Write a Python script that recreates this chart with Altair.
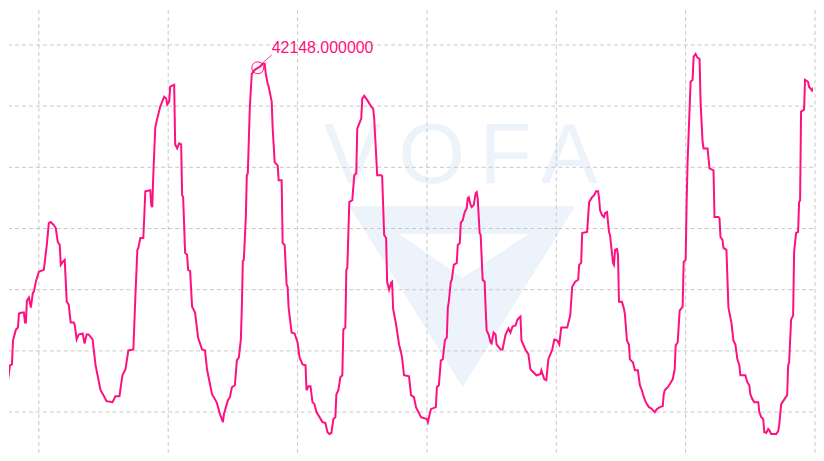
import altair as alt
import pandas as pd

# ---- data ----
sample = [0,4,5,7,9,11,12,15,17,18,
21,23,24,25,26,28,30,32,33,35,
38,43,46,48,50,53,55,57,59,60,
62,64,66,68,70,73,74,76,78,82,
84,86,88,92,95,97,100,103,106,112,
115,119,122,125,128,133,135,137,138,140,
143,144,145,150,151,152,153,155,157,158,
160,162,164,166,167,169,170,174,175,177,
179,181,182,183,185,187,188,190,192,195,
198,202,205,207,209,212,215,217,220,223,
224,226,228,230,232,235,237,239,241,242,
243,244,246,247,248,250,252,255,258,260,
263,265,266,268,269,272,273,275,278,279,
282,283,285,287,288,289,292,295,298,300,
303,306,307,309,311,313,315,317,320,323,
326,328,330,332,334,336,337,339,341,343,
344,346,347,348,350,353,355,357,358,362,
363,365,367,369,372,374,375,377,378,382,
383,385,387,388,390,392,393,394,397,400,
402,403,405,410,412,415,417,420,422,428,
429,432,437,438,440,442,444,446,448,449,
450,452,453,455,458,459,461,462,464,466,
468,469,470,472,473,475,477,478,479,481,
482,484,486,487,488,490,492,493,495,497,
498,502,504,507,510,512,514,517,519,522,
523,527,530,532,535,538,542,543,546,548,
550,552,554,556,559,561,563,569,571,572,
574,577,580,581,583,584,589,591,594,596,
598,600,601,602,604,606,607,609,611,612,
615,616,617,619,620,621,624,626,627,629,
631,632,635,637,640,642,644,646,648,651,
653,655,657,659,662,665,666,667,670,672,
675,677,678,680,682,685,686,688,689,690,
693,695,696,698,700,702,703,705,706,710,
712,716,717,721,722,723,725,726,729,731,
734,736,738,740,742,743,748,750,752,753,
755,757,761,762,764,766,767,769,771,772,
774,779,781,782,784,786,788,790,791,792,
794,796,797,799,801,802,803,804,807,808,
811,812,815,817,820,822,823,824]

value = [9648,9648,10748,10748,12248,12348,14748,15848,16048,17448,
17548,17548,16548,16548,18748,19048,18048,19548,19648,20648,
21648,21848,24348,26548,26648,26348,26048,24648,24348,22348,
22648,22848,18648,18348,16548,16548,16348,14848,15348,15448,
14448,15348,15348,14848,12248,11248,9748,9248,8648,8548,
9148,9148,11248,11848,13748,13848,19148,23848,24048,25048,
25048,27348,29748,29848,28348,28148,31348,36148,37048,37448,
38248,38748,39248,39048,38448,38748,40248,40448,34448,34048,
34548,34448,29348,29148,23548,23348,21848,21748,18148,17548,
15048,13848,13748,11848,10848,9348,8848,8448,7348,6548,
7348,8048,8748,9048,10048,10248,12748,13048,14848,18048,
22748,22848,27148,31348,31548,38148,41548,41948,42148,42248,
42548,42548,41548,40548,40248,38748,36048,32648,32348,30848,
30848,24548,24348,20348,20148,18048,15548,15448,14548,13048,
12348,12248,9748,10148,10148,8548,8348,7548,7048,6548,
6448,5548,5348,5448,6848,7048,9348,9748,11048,11248,
15848,16048,21848,22048,28648,28848,31348,31548,36048,37048,
39048,39348,39048,38748,38248,38048,37048,33348,31348,31348,
31248,25348,25048,20648,19848,20548,20648,17948,16348,14348,
13548,13048,11248,11148,9248,9048,8048,7448,7048,6848,
6548,7848,8048,10048,10248,12748,12848,14748,15048,18048,
18648,20648,20848,22348,22548,24348,24548,26548,26848,27648,
28048,29048,29148,28348,28148,28348,29548,29648,29048,25548,
25348,20848,20648,17948,15748,15348,14548,14448,15548,15348,
14348,13848,13848,15348,15948,15548,16148,16248,16848,17148,
14748,13848,13348,11848,11548,11248,11348,11748,10848,10748,
12848,13348,13848,14848,14748,14348,16048,16048,16848,17248,
20148,20648,20848,22348,22548,25548,25648,28648,29148,29348,
29748,29748,29048,27848,27348,27148,27548,27648,25648,25348,
22548,22348,23848,23948,23348,18648,18648,17948,17348,14748,
14348,12848,12548,11748,11748,10248,9748,9048,8548,8048,
7948,7748,7548,7848,8048,8148,9348,9748,10048,10348,
10848,11848,14248,14548,17748,18148,22648,22848,28648,32848,
40748,40948,43248,43548,43148,43048,38748,34748,34048,34048,
32048,31848,27148,27148,27048,25148,24848,24048,23848,18048,
16548,14748,14348,12848,12248,11248,11248,10548,10248,9348,
8848,8548,8548,7548,7048,6848,5548,5448,5848,5748,
5348,5348,5648,6248,8348,8648,8948,9248,12248,12548,
16848,17248,23648,25548,25648,28648,28848,37748,37948,40948,
40748,40248,39848,40248,40548,41448,41548,41048]

grid_x = [38, 168, 298, 428, 558, 688, 818]
grid_y = [7548, 13698, 19848, 25998, 32148, 38298, 44448]

marker_sample = [258]
marker_value = [42148]
marker_label = ["42148.000000"]

watermark_letters = ["V", "O", "F", "A"]

# ---- styles ----
PINK = "#ff1080"
GRID = "#c8c8c8"
WM = "#edf3fb"

x_scale = alt.Scale(domain=[8, 816], nice=False, zero=False)
y_scale = alt.Scale(domain=[3448, 47948], nice=False, zero=False)

df = pd.DataFrame({"sample": sample, "value": value})

# watermark
wm_df = pd.DataFrame({"sample": [353, 433, 507, 571], "value": [30548] * 4, "ch": watermark_letters})
wm_text = alt.Chart(wm_df).mark_text(
    font="Liberation Sans", fontSize=86, color=WM, align="center", baseline="alphabetic"
).encode(
    x=alt.X("sample:Q", scale=x_scale, axis=None),
    y=alt.Y("value:Q", scale=y_scale, axis=None),
    text="ch:N",
)
outer = pd.DataFrame({"sample": [350, 464, 577], "top": [28248] * 3, "bot": [28248, 10048, 28248]})
inner = pd.DataFrame({"sample": [400, 464, 530], "top": [25448] * 3, "bot": [25448, 21048, 25448]})
wm_outer = alt.Chart(outer).mark_area(color=WM, opacity=1).encode(
    x=alt.X("sample:Q", scale=x_scale, axis=None),
    y=alt.Y("top:Q", scale=y_scale, axis=None),
    y2="bot:Q",
)
wm_inner = alt.Chart(inner).mark_area(color="white", opacity=1).encode(
    x=alt.X("sample:Q", scale=x_scale, axis=None),
    y=alt.Y("top:Q", scale=y_scale, axis=None),
    y2="bot:Q",
)

# grid
vgrid = alt.Chart(pd.DataFrame({"gx": grid_x})).mark_rule(
    color=GRID, strokeDash=[4, 3], strokeWidth=1
).encode(x=alt.X("gx:Q", scale=x_scale, axis=None))
hgrid = alt.Chart(pd.DataFrame({"gy": grid_y})).mark_rule(
    color=GRID, strokeDash=[4, 3], strokeWidth=1
).encode(y=alt.Y("gy:Q", scale=y_scale, axis=None))

# signal line
line = alt.Chart(df).mark_line(color=PINK, strokeWidth=2, clip=True).encode(
    x=alt.X("sample:Q", scale=x_scale, axis=None),
    y=alt.Y("value:Q", scale=y_scale, axis=None),
)

# marker annotation
mk_df = pd.DataFrame({"sample": marker_sample, "value": marker_value, "label": marker_label})
marker = alt.Chart(mk_df).mark_point(
    shape="circle", size=144, filled=False, color=PINK, strokeWidth=1, opacity=1
).encode(
    x=alt.X("sample:Q", scale=x_scale, axis=None),
    y=alt.Y("value:Q", scale=y_scale, axis=None),
)
conn_df = pd.DataFrame({"x1": [262], "x2": [272], "y1": [42548], "y2": [43448]})
connector = alt.Chart(conn_df).mark_rule(color=PINK, strokeWidth=1, opacity=0.8).encode(
    x=alt.X("x1:Q", scale=x_scale, axis=None),
    x2="x2:Q",
    y=alt.Y("y1:Q", scale=y_scale, axis=None),
    y2="y2:Q",
)
lab_df = pd.DataFrame({"sample": [272], "value": [43648], "label": marker_label})
label = alt.Chart(lab_df).mark_text(
    align="left", baseline="alphabetic", font="Liberation Sans", fontSize=16, color=PINK
).encode(
    x=alt.X("sample:Q", scale=x_scale, axis=None),
    y=alt.Y("value:Q", scale=y_scale, axis=None),
    text="label:N",
)

chart = alt.layer(
    wm_outer, wm_inner, wm_text, vgrid, hgrid, line, marker, connector, label
).properties(
    width=808, height=445, padding=0, background="white"
).configure_view(stroke=None)

chart.save("out.html", embed_options={"renderer": "svg", "actions": False})
